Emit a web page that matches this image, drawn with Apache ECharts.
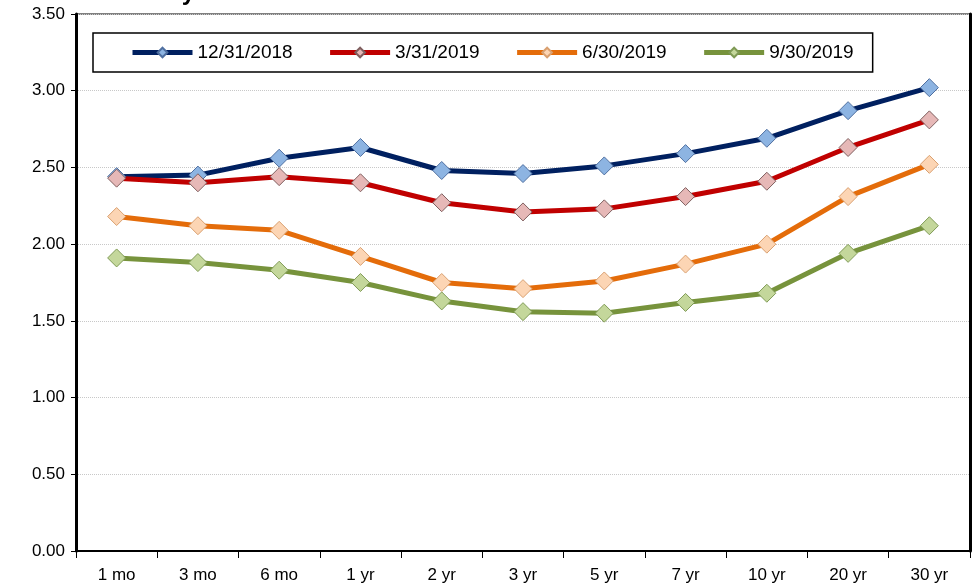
<!DOCTYPE html>
<html>
<head>
<meta charset="utf-8">
<script src="https://cdn.jsdelivr.net/npm/echarts@6/dist/echarts.min.js"></script>
<style>
html,body{margin:0;padding:0;background:#fff;}
#main{width:979px;height:584px;}
</style>
</head>
<body>
<div id="main"></div>
<script>
var tenors = ['1 mo','3 mo','6 mo','1 yr','2 yr','3 yr','5 yr','7 yr','10 yr','20 yr','30 yr'];
var dec2018 = [2.44,2.45,2.56,2.63,2.48,2.46,2.51,2.59,2.69,2.87,3.02];
var mar2019 = [2.43,2.40,2.44,2.40,2.27,2.21,2.23,2.31,2.41,2.63,2.81];
var jun2019 = [2.18,2.12,2.09,1.92,1.75,1.71,1.76,1.87,2.00,2.31,2.52];
var sep2019 = [1.91,1.88,1.83,1.75,1.63,1.56,1.55,1.62,1.68,1.94,2.12];

var font = 'Liberation Sans, Arial, sans-serif';
var chart = echarts.init(document.getElementById('main'));

function mk(name, data, line, fill, border){
	return {
		name: name,
		type: 'line',
		data: data,
		symbol: 'diamond',
		symbolSize: 18,
		lineStyle: {color: line, width: 5},
		itemStyle: {color: fill, borderColor: border, borderWidth: 1},
		color: line,
		z: 3
	};
}

var option = {
	animation: false,
	title: {
		text: 'Treasury',
		left: 90,
		top: -24,
		textStyle: {fontFamily: font, fontSize: 24, fontWeight: 'bold', color: '#000'}
	},
	grid: {left: 76, right: 9, top: 14, bottom: 33, show: true, borderColor: '#000', borderWidth: 1},
	legend: {
		left: 93, top: 33,
		padding: [10, 19, 10, 37],
		itemGap: 35,
		itemWidth: 60, itemHeight: 12,
		borderColor: '#000', borderWidth: 1.5,
		lineStyle: {width: 5},
		textStyle: {fontFamily: font, fontSize: 19, color: '#000'},
		data: ['12/31/2018','3/31/2019','6/30/2019','9/30/2019']
	},
	xAxis: {
		type: 'category',
		data: tenors,
		boundaryGap: true,
		axisLine: {lineStyle: {color: '#000', width: 2}},
		axisTick: {show: true, length: 7, lineStyle: {color: '#000', width: 1}},
		axisLabel: {fontFamily: font, fontSize: 17, color: '#000', margin: 16}
	},
	yAxis: [{
		type: 'value',
		min: 0, max: 3.5, interval: 0.5,
		axisLine: {show: true, lineStyle: {color: '#000', width: 3}},
		axisTick: {show: true, length: 5, lineStyle: {color: '#000', width: 1}},
		axisLabel: {fontFamily: font, fontSize: 17, color: '#000', margin: 11,
			formatter: function(v){ return v.toFixed(2); }},
		splitLine: {show: true, lineStyle: {color: '#c8c8c8', type: 'dotted', width: 1}}
	}, {
		type: 'value',
		position: 'right',
		min: 0, max: 3.5, interval: 0.5,
		axisLine: {show: true, lineStyle: {color: '#000', width: 3}},
		axisTick: {show: false},
		axisLabel: {show: false},
		splitLine: {show: false}
	}],
	series: [
		mk('12/31/2018', dec2018, '#002060', '#8db4e2', '#4f6fa0'),
		mk('3/31/2019', mar2019, '#c00000', '#e6b8b7', '#7f5f5f'),
		mk('6/30/2019', jun2019, '#e46c0a', '#fcd5b4', '#d9a070'),
		mk('9/30/2019', sep2019, '#77933c', '#c4d79b', '#7f9a55')
	]
};
chart.setOption(option);
</script>
</body>
</html>
